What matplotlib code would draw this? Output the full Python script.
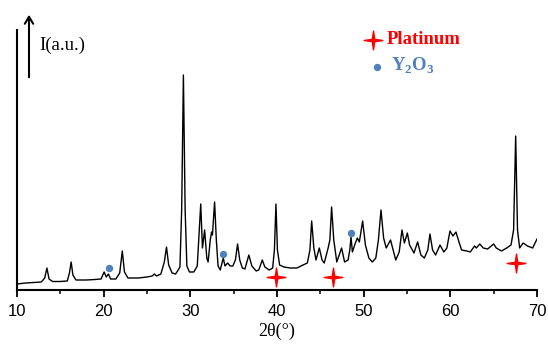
import matplotlib
matplotlib.use("Agg")
import matplotlib.pyplot as plt
from matplotlib.path import Path
import numpy as np

plt.rcParams["mathtext.fontset"] = "custom"
plt.rcParams["mathtext.rm"] = "Liberation Serif:bold"
plt.rcParams["mathtext.bf"] = "Liberation Serif:bold"

# XRD pattern (2theta in degrees, intensity in a.u.)
two_theta = [10.0, 11.0, 12.0, 12.8, 13.2, 13.45, 13.7, 14.1, 15.0, 15.8, 16.05, 16.25, 16.45, 16.8,
             18.0, 19.0, 19.7, 19.9, 20.05, 20.3, 20.55, 20.8, 21.4, 21.85, 22.15, 22.4, 22.8,
             24.0, 25.0, 25.6, 25.85, 26.1, 26.6, 27.0, 27.25, 27.5, 27.9, 28.3, 28.6, 28.8,
             29.0, 29.2, 29.4, 29.6, 29.9, 30.4, 30.8, 31.0, 31.2, 31.4, 31.65, 31.9, 32.05,
             32.3, 32.45, 32.55, 32.8, 33.0, 33.2, 33.45, 33.8, 34.0, 34.3, 34.6, 34.9, 35.2,
             35.45, 35.7, 36.0, 36.3, 36.75, 37.1, 37.6, 37.9, 38.3, 38.6, 39.1, 39.5, 39.7,
             39.88, 40.05, 40.3, 40.8, 41.5, 42.3, 43.0, 43.5, 43.8, 44.0, 44.25, 44.5, 44.88,
             45.2, 45.45, 45.9, 46.1, 46.3, 46.55, 46.9, 47.45, 47.8, 48.2, 48.4, 48.54, 48.7,
             49.0, 49.27, 49.5, 49.88, 50.2, 50.6, 51.0, 51.4, 51.7, 52.0, 52.3, 52.6, 53.1,
             53.4, 53.7, 54.1, 54.42, 54.7, 55.04, 55.3, 55.8, 56.23, 56.6, 57.0, 57.4, 57.65,
             57.95, 58.3, 58.81, 59.25, 59.6, 59.96, 60.3, 60.65, 61.0, 61.3, 61.9, 62.3, 62.8,
             63.0, 63.4, 63.8, 64.3, 65.0, 65.3, 65.9, 66.5, 67.0, 67.3, 67.54, 67.75, 68.0,
             68.4, 68.9, 69.5, 70.0]
intensity = [6, 7, 7.5, 8, 12, 22, 11, 8.5, 8.5, 9, 17, 28, 15, 10,
             10, 10.5, 11, 15, 18, 13, 16, 11, 11, 17, 39, 18, 12,
             12, 13, 14, 16, 14, 16, 28, 43, 25, 17, 16, 20, 23,
             80, 215, 80, 24, 18, 18, 24, 55, 86, 42, 60, 32, 28,
             50, 58, 55, 88, 50, 24, 20, 32, 24, 27, 24, 24, 30,
             46, 30, 22, 21, 35, 24, 19, 20, 30, 23, 20, 22, 40,
             86, 40, 25, 23, 22, 22, 25, 27, 40, 69, 42, 30, 42,
             30, 27, 42, 50, 83, 50, 28, 42, 28, 30, 40, 53, 38,
             46, 52, 48, 69, 45, 32, 28, 32, 50, 80, 52, 42, 50,
             40, 30, 38, 60, 47, 57, 45, 37, 48, 35, 32, 40, 56,
             40, 35, 45, 38, 42, 59, 54, 58, 48, 40, 39, 38, 44,
             42, 46, 42, 41, 46, 42, 39, 42, 45, 60, 154, 60, 42,
             47, 44, 42, 51]

# Phase markers
pt_x = [39.88, 46.45, 67.54]
pt_y = [12.7, 13.3, 27.3]
y2o3_x = [20.58, 33.8, 48.54]
y2o3_y = [22, 36, 57]

xticks = [10, 20, 30, 40, 50, 60, 70]

# 4-pointed star marker
a = 0.13
star = Path([(0, 1), (a, a), (1, 0), (a, -a), (0, -1), (-a, -a), (-1, 0), (-a, a), (0, 1)],
            [Path.MOVETO] + [Path.LINETO] * 7 + [Path.CLOSEPOLY])

RED = "#FF0000"
BLUE = "#4F81BD"
serif = ["Liberation Serif", "DejaVu Serif"]
sans = ["Liberation Sans", "DejaVu Sans"]

fig = plt.figure(figsize=(5.48, 3.44), dpi=100)
ax = fig.add_axes([17 / 548, 1 - 290 / 344, 520 / 548, 260 / 344])

ax.plot(two_theta, intensity, color="black", lw=1.0)
ax.plot(pt_x, pt_y, linestyle="none", marker=star, markersize=13.5, color=RED, mec=RED)
ax.plot(y2o3_x, y2o3_y, linestyle="none", marker="o", markersize=4.3, color=BLUE, mec=BLUE)

ax.set_xlim(10, 70)
ax.set_ylim(0, 260)
ax.set_xticks(xticks)
ax.set_xticklabels([str(t) for t in xticks], fontfamily=sans, fontsize=12)
ax.set_xticks(np.arange(15, 70, 10), minor=True)
ax.tick_params(axis="x", which="major", direction="out", length=5, width=1.3, pad=5)
ax.tick_params(axis="x", which="minor", direction="out", length=3, width=1.1)
ax.set_yticks([])
for s in ["top", "right"]:
    ax.spines[s].set_visible(False)
for s in ["left", "bottom"]:
    ax.spines[s].set_linewidth(1.5)
ax.set_xlabel("2θ(°)", fontfamily=serif, fontsize=13, labelpad=3)

# intensity arrow and label (figure coordinates)
fig.patches.append(matplotlib.patches.FancyArrowPatch(
    (29 / 548, 1 - 80 / 344), (29 / 548, 1 - 12 / 344), transform=fig.transFigure,
    arrowstyle="->,head_length=5,head_width=3", lw=1.5, color="black", mutation_scale=1))
fig.text(39 / 548, 1 - 45 / 344, "I(a.u.)", fontfamily=serif, fontsize=13.5, va="center", ha="left")

# legend
fig.lines.append(matplotlib.lines.Line2D([373 / 548], [1 - 40 / 344], transform=fig.transFigure,
                                         marker=star, markersize=13.5, color=RED, mec=RED, linestyle="none"))
fig.text(387 / 548, 1 - 40 / 344, "Platinum", fontfamily=serif, fontweight="bold", fontsize=13.5,
         color=RED, va="center", ha="left")
fig.lines.append(matplotlib.lines.Line2D([377 / 548], [1 - 67 / 344], transform=fig.transFigure,
                                         marker="o", markersize=4.3, color=BLUE, mec=BLUE, linestyle="none"))
fig.text(391 / 548, 1 - 66 / 344, r"Y$_\mathrm{2}$O$_\mathrm{3}$", fontfamily=serif, fontweight="bold",
         fontsize=13.5, color=BLUE, va="center", ha="left")

fig.savefig("out.png", dpi=100)
